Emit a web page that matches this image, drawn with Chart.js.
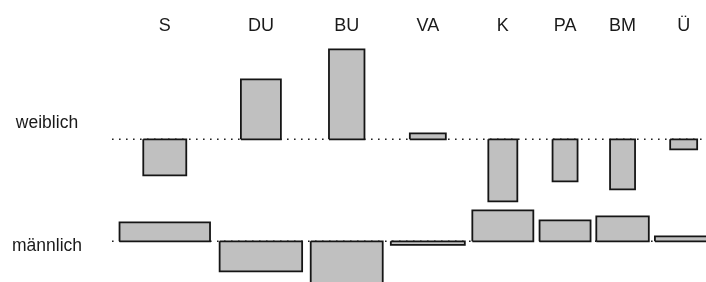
<!DOCTYPE html>
<html>
<head>
<meta charset="utf-8">
<script src="https://cdn.jsdelivr.net/npm/chart.js@4.4.1/dist/chart.umd.min.js"></script>
<style>
  html, body { margin: 0; padding: 0; background: #ffffff; }
  #wrap { width: 706px; height: 282px; }
</style>
</head>
<body>
<div id="wrap"><canvas id="c" width="706" height="282"></canvas></div>
<script>
// ---- data (association plot: heights = Pearson residuals, widths = sqrt(expected)) ----
const categories = ['S', 'DU', 'BU', 'VA', 'K', 'PA', 'BM', 'Ü'];
const rowLabels = ['weiblich', 'männlich'];
const residWeiblich   = [-3.6, 6.0, 9.0, 0.6, -6.2, -4.2, -5.0, -1.0];
const residMaennlich  = [1.9, -3.0, -4.5, -0.35, 3.1, 2.1, 2.5, 0.5];
const sqrtExpWeiblich  = [4.3, 4.0, 3.55, 3.6, 2.9, 2.5, 2.5, 2.7];
const sqrtExpMaennlich = [9.05, 8.25, 7.2, 7.4, 6.1, 5.1, 5.25, 5.75];

// ---- layout rules ----
const BAR_FILL = 0.9;   // bars take 90% of their column
const ROW_GAP = 0.9;    // space between row bands (residual units)
const X_MIN = -0.25, X_SPAN = 59.4;
const X_MAX = X_MIN + X_SPAN;
const Y_MAX = 10.1, Y_MIN = -14.27;

const colWidths = categories.map((_, j) => Math.max(sqrtExpWeiblich[j], sqrtExpMaennlich[j]) / BAR_FILL);
const centers = [];
let acc = 0;
colWidths.forEach(w => { centers.push(acc + w / 2); acc += w; });

const maleBase = Math.min(...residWeiblich) - ROW_GAP - Math.max(...residMaennlich);
const rows = [
  { resid: residWeiblich, w: sqrtExpWeiblich, base: 0 },
  { resid: residMaennlich, w: sqrtExpMaennlich, base: maleBase }
];
const rowCenters = rows.map(r => r.base + (Math.max(...r.resid) + Math.min(...r.resid)) / 2);

const datasets = [];
// dotted baselines (drawn first)
rows.forEach(r => {
  datasets.push({
    data: [{ x: X_MIN, y: r.base }, { x: X_MAX, y: r.base }],
    showLine: true, borderColor: '#222', borderWidth: 1.6, borderDash: [1.6, 5.4],
    pointRadius: 0, fill: false, order: 10
  });
});
// rectangles
rows.forEach(r => {
  categories.forEach((c, j) => {
    const x0 = centers[j] - r.w[j] / 2, x1 = centers[j] + r.w[j] / 2;
    const y0 = r.base, y1 = r.base + r.resid[j];
    datasets.push({
      data: [{ x: x0, y: y0 }, { x: x0, y: y1 }, { x: x1, y: y1 }, { x: x1, y: y0 }, { x: x0, y: y0 }],
      showLine: true, fill: 'shape', backgroundColor: '#c0c0c0',
      borderColor: '#151515', borderWidth: 1.8, borderJoinStyle: 'miter',
      pointRadius: 0, pointHoverRadius: 0, tension: 0, order: 0
    });
  });
});

new Chart(document.getElementById('c'), {
  type: 'scatter',
  data: { datasets },
  options: {
    responsive: false, animation: false, devicePixelRatio: 1,
    layout: { padding: { top: 15.5, left: 0, right: 0, bottom: 0 } },
    plugins: { legend: { display: false }, tooltip: { enabled: false } },
    events: [],
    scales: {
      x: {
        type: 'linear', position: 'top', min: X_MIN, max: X_MAX,
        grid: { display: false, drawTicks: false }, border: { display: false },
        afterBuildTicks: s => { s.ticks = centers.map(v => ({ value: v })); },
        afterFit: s => { s.height = 22.8; s.paddingLeft = 0; s.paddingRight = 0; },
        ticks: {
          autoSkip: false, maxRotation: 0, padding: 1, color: '#1a1a1a',
          font: { family: '"Liberation Sans", Arial, sans-serif', size: 18 },
          callback: v => { const i = centers.findIndex(c => Math.abs(c - v) < 1e-6); return i >= 0 ? categories[i] : ''; }
        }
      },
      y: {
        type: 'linear', min: Y_MIN, max: Y_MAX,
        grid: { display: false, drawTicks: false }, border: { display: false },
        afterBuildTicks: s => { s.ticks = rowCenters.slice().sort((a, b) => a - b).map(v => ({ value: v })); },
        afterFit: s => { s.width = 112; s.paddingTop = 0; s.paddingBottom = 0; },
        ticks: {
          autoSkip: false, crossAlign: 'center', padding: 30, labelOffset: -2.5, color: '#1a1a1a',
          font: { family: '"Liberation Sans", Arial, sans-serif', size: 17.5 },
          callback: v => { const i = rowCenters.findIndex(c => Math.abs(c - v) < 1e-6); return i >= 0 ? rowLabels[i] : ''; }
        }
      }
    }
  }
});
</script>
</body>
</html>
